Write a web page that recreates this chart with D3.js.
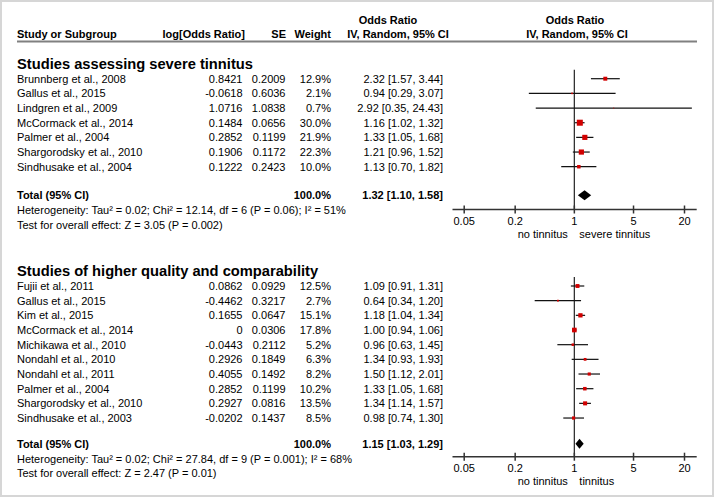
<!DOCTYPE html>
<html><head><meta charset="utf-8">
<script src="https://cdn.jsdelivr.net/npm/d3@7"></script>
<style>body{margin:0;background:#fff}svg{display:block}text{font-family:"Liberation Sans",Arial,sans-serif;fill:#000}</style>
</head><body><svg id="c" width="714" height="497"></svg>
<script>
// ---- Data ----
const sec1Title = "Studies assessing severe tinnitus";
const sec1Studies = ["Brunnberg et al., 2008","Gallus et al., 2015","Lindgren et al., 2009","McCormack et al., 2014","Palmer et al., 2004","Shargorodsky et al., 2010","Sindhusake et al., 2004"];
const sec1Log = [0.8421,-0.0618,1.0716,0.1484,0.2852,0.1906,0.1222];
const sec1SE = [0.2009,0.6036,1.0838,0.0656,0.1199,0.1172,0.2423];
const sec1Weight = [12.9,2.1,0.7,30.0,21.9,22.3,10.0];
const sec1OR = [2.32,0.94,2.92,1.16,1.33,1.21,1.13];
const sec1Lo = [1.57,0.29,0.35,1.02,1.05,0.96,0.70];
const sec1Hi = [3.44,3.07,24.43,1.32,1.68,1.52,1.82];
const sec1Total = [1.32,1.10,1.58];
const sec1TotalWeight = 100.0;
const sec1Het = "Heterogeneity: Tau² = 0.02; Chi² = 12.14, df = 6 (P = 0.06); I² = 51%";
const sec1Test = "Test for overall effect: Z = 3.05 (P = 0.002)";
const sec1Labels = ["no tinnitus","severe tinnitus"];

const sec2Title = "Studies of higher quality and comparability";
const sec2Studies = ["Fujii et al., 2011","Gallus et al., 2015","Kim et al., 2015","McCormack et al., 2014","Michikawa et al., 2010","Nondahl et al., 2010","Nondahl et al., 2011","Palmer et al., 2004","Shargorodsky et al., 2010","Sindhusake et al., 2003"];
const sec2Log = [0.0862,-0.4462,0.1655,0,-0.0443,0.2926,0.4055,0.2852,0.2927,-0.0202];
const sec2SE = [0.0929,0.3217,0.0647,0.0306,0.2112,0.1849,0.1492,0.1199,0.0816,0.1437];
const sec2Weight = [12.5,2.7,15.1,17.8,5.2,6.3,8.2,10.2,13.5,8.5];
const sec2OR = [1.09,0.64,1.18,1.00,0.96,1.34,1.50,1.33,1.34,0.98];
const sec2Lo = [0.91,0.34,1.04,0.94,0.63,0.93,1.12,1.05,1.14,0.74];
const sec2Hi = [1.31,1.20,1.34,1.06,1.45,1.93,2.01,1.68,1.57,1.30];
const sec2Total = [1.15,1.03,1.29];
const sec2TotalWeight = 100.0;
const sec2Het = "Heterogeneity: Tau² = 0.02; Chi² = 27.84, df = 9 (P = 0.001); I² = 68%";
const sec2Test = "Test for overall effect: Z = 2.47 (P = 0.01)";
const sec2Labels = ["no tinnitus","tinnitus"];

const axisTicks = [0.05,0.2,1,5,20];
const axisTickLabels = ["0.05","0.2","1","5","20"];

// ---- Drawing ----
const svg = d3.select("#c");
svg.append("rect").attr("x",1).attr("y",1).attr("width",712).attr("height",495)
  .attr("fill","none").attr("stroke","#d6d6d6").attr("stroke-width",2);

const x = d3.scaleLog().domain([0.05,20]).range([464.2,684.5]);
const FS = 11;
const colStudy = 17, colLog = 242.5, colSE = 285.5, colW = 331, colOR = 443;
const axL = 452.5, axR = 696.7;
const f2 = d3.format(".2f");

function txt(t, xx, y, anchor, opts={}) {
  return svg.append("text").attr("x",xx).attr("y",y).attr("text-anchor",anchor||"start")
    .attr("font-size",opts.size||FS).attr("font-weight",opts.bold?"bold":"normal").text(t);
}

// header
txt("Odds Ratio", 388, 24, "middle", {bold:true});
txt("Odds Ratio", 575, 24, "middle", {bold:true});
txt("Study or Subgroup", colStudy, 38, "start", {bold:true});
txt("log[Odds Ratio]", 245, 38, "end", {bold:true});
txt("SE", 286, 38, "end", {bold:true});
txt("Weight", 331, 38, "end", {bold:true});
txt("IV, Random, 95% CI", 398, 38, "middle", {bold:true});
txt("IV, Random, 95% CI", 577, 38, "middle", {bold:true});
svg.append("line").attr("x1",17).attr("x2",697).attr("y1",41.5).attr("y2",41.5)
  .attr("stroke","#808080").attr("stroke-width",2);

function section(cfg) {
  const {title, studies, logs, ses, ws, ors, los, his, total, totalW, het, test, labels, titleY, firstY, totalY, axisY} = cfg;
  const rowH = 14.67;
  const y = i => firstY + i*rowH;
  txt(title, colStudy, titleY+5, "start", {bold:true, size:14.7});
  studies.forEach((s,i) => {
    const by = y(i)+4;
    txt(s, colStudy, by, "start");
    txt(String(logs[i]), colLog, by, "end");
    txt(String(ses[i]), colSE, by, "end");
    txt(ws[i].toFixed(1)+"%", colW, by, "end");
    txt(`${f2(ors[i])} [${f2(los[i])}, ${f2(his[i])}]`, colOR, by, "end");
  });
  txt("Total (95% CI)", colStudy, totalY+4, "start", {bold:true});
  txt(totalW.toFixed(1)+"%", colW, totalY+4, "end", {bold:true});
  txt(`${f2(total[0])} [${f2(total[1])}, ${f2(total[2])}]`, colOR, totalY+4, "end", {bold:true});
  txt(het, colStudy, totalY+19, "start");
  txt(test, colStudy, totalY+33.5, "start");

  const g = svg.append("g");
  // null line
  g.append("line").attr("x1",x(1)).attr("x2",x(1)).attr("y1",firstY-9).attr("y2",axisY)
    .attr("stroke","#333").attr("stroke-width",1.3);
  // CIs
  studies.forEach((s,i) => {
    g.append("line").attr("x1",x(los[i])).attr("x2",x(his[i])).attr("y1",y(i)).attr("y2",y(i))
      .attr("stroke","#111").attr("stroke-width",1.2);
    const side = 1.1*Math.sqrt(ws[i]);
    g.append("rect").attr("x",x(ors[i])-side/2).attr("y",y(i)-side/2)
      .attr("width",side).attr("height",side).attr("fill","#d10000");
  });
  // diamond
  const h = 5;
  g.append("path").attr("d",`M${x(total[1])},${totalY}L${x(total[0])},${totalY-h}L${x(total[2])},${totalY}L${x(total[0])},${totalY+h}Z`)
    .attr("fill","#000");
  // axis
  g.append("line").attr("x1",axL).attr("x2",axR).attr("y1",axisY).attr("y2",axisY)
    .attr("stroke","#333").attr("stroke-width",1.5);
  axisTicks.forEach((t,i) => {
    g.append("line").attr("x1",x(t)).attr("x2",x(t)).attr("y1",axisY-4).attr("y2",axisY+4)
      .attr("stroke","#333").attr("stroke-width",1.5);
    txt(axisTickLabels[i], x(t), axisY+15, "middle");
  });
  txt(labels[0], x(1)-6.5, axisY+28, "end");
  txt(labels[1], x(1)+5, axisY+28, "start");
}

section({title:sec1Title, studies:sec1Studies, logs:sec1Log, ses:sec1SE, ws:sec1Weight, ors:sec1OR, los:sec1Lo, his:sec1Hi,
  total:sec1Total, totalW:sec1TotalWeight, het:sec1Het, test:sec1Test, labels:sec1Labels, titleY:64, firstY:78.7, totalY:195.3, axisY:209.5});
section({title:sec2Title, studies:sec2Studies, logs:sec2Log, ses:sec2SE, ws:sec2Weight, ors:sec2OR, los:sec2Lo, his:sec2Hi,
  total:sec2Total, totalW:sec2TotalWeight, het:sec2Het, test:sec2Test, labels:sec2Labels, titleY:270.7, firstY:286, totalY:443.8, axisY:456.7});
</script></body></html>
